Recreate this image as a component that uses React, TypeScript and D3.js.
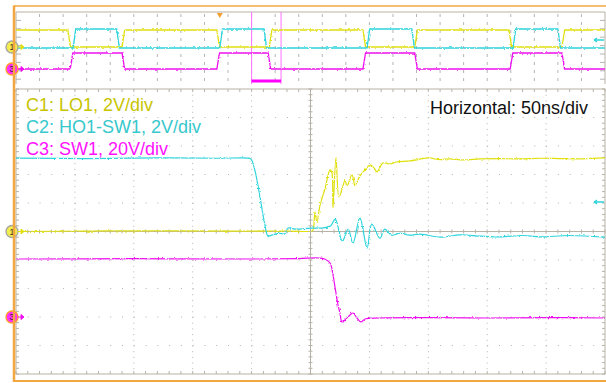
import React from 'react';
import * as d3 from 'd3';

const W = 606;
const H = 383;

// Main window: 10 x 10 divisions, 50 ns/div
const TIME_SPAN_NS = 500;
const H_DIVS = 10;
const V_DIVS = 10;

// C1: LO1, 2 V/div — [time ns, volts]
const lo1: [number, number][] = [
  [0, 0], [60, 0.03], [120, 0.05], [180, 0.02], [230, 0.03], [248, 0], [251, 0.02],
  [252.2, 0.1], [253.8, 1.37], [255.5, 0.67], [258.1, 1.86], [262.3, 3.0],
  [266.6, 4.32], [268, 4.2], [269.1, 1.65], [271.6, 5.16], [274.2, 2.42], [277.6, 3.19],
  [279.3, 3.61], [281, 3.19], [285.2, 3.97], [287.8, 3.26], [292, 3.9], [296.3, 4.32],
  [300.5, 4.67], [303.9, 4.46], [306.5, 4.18], [311.5, 4.81], [317.5, 4.74], [323.4, 4.88],
  [334.5, 4.95], [349.7, 5.16], [360, 5.05], [368.4, 5.1], [380, 5.02], [393.9, 5.09],
  [410, 5.12], [427.8, 5.09], [445, 5.14], [461.8, 5.12], [480, 5.1], [500, 5.16],
];

// C2: HO1-SW1, 2 V/div — [time ns, volts]
const ho1sw1: [number, number][] = [
  [0, 5.23], [60, 5.2], [120, 5.25], [170, 5.22], [192, 5.25], [196, 5.23], [199.5, 5.16],
  [203, 4.3], [207, 2.56], [211, 0.67], [214, -0.25], [217, -0.18], [224, -0.04], [228, -0.1],
  [231, 0.32], [237, 0.25], [250, 0.32], [260, 0.32], [267, 0.46], [271, 0.95], [277, -0.6],
  [282, 0.25], [286, -0.74], [292, 1.02], [298, -1.09], [302, 0.6], [309, -0.39], [313, 0.25],
  [319, -0.18], [326, -0.04], [334, -0.18], [343, -0.1], [360, -0.32], [377, -0.15],
  [395, -0.25], [411, -0.3], [430, -0.2], [445, -0.3], [470, -0.2], [500, -0.32],
];

// C3: SW1, 20 V/div — [time ns, volts]
const sw1: [number, number][] = [
  [0, 40.7], [100, 40.9], [200, 40.7], [240, 41.0], [257, 41.4], [262, 40.7], [266.6, 37.9],
  [269.1, 29.5], [270.8, 21], [273.4, 8.4], [275, 2.8], [276.7, -3.5], [279.3, -2.1],
  [283.5, 1.4], [286, 2.8], [289.4, -0.7], [292.8, -3.5], [296.3, -1.4], [309, -0.7],
  [350, -0.5], [400, -0.7], [450, -0.4], [500, -0.7],
];

// Overview record (µs): toggle times of each channel over the full 10 µs acquisition
const ovLo1Edges = [0.88, 1.8, 3.41, 4.3, 5.89, 6.77, 8.37, 9.27];
const ovHo1Edges = [0.97, 1.71, 3.46, 4.21, 5.96, 6.72, 8.44, 9.2];
const ovSw1Edges = [0.92, 1.8, 3.41, 4.28, 5.89, 6.77, 8.39, 9.27];
const ovStartHigh = { lo1: true, ho1: false, sw1: false };
const OV_SPAN_US = 10;
const ZOOM_START_US = 4.0;
const TRIGGER_US = 3.46;

const labels = [
  { text: 'C1: LO1, 2V/div', color: '#c8c400' },
  { text: 'C2: HO1-SW1, 2V/div', color: '#36c8cc' },
  { text: 'C3: SW1, 20V/div', color: '#ff10ff' },
];
const horizLabel = 'Horizontal: 50ns/div';

const COL = {
  frame: '#f4a640',
  grid: '#b8b2a6',
  dot: '#b4b4b4',
  yellow: '#e0e010',
  cyan: '#2ed4dc',
  magenta: '#ee10ee',
};

// Main graticule geometry
const M = { x0: 16, x1: 605, y0: 89, y1: 374 };
// Overview graticule geometry
const O = { x0: 16, x1: 605, y0: 12, y1: 84 };

const x = d3.scaleLinear().domain([0, TIME_SPAN_NS]).range([M.x0, M.x1]);
const yDiv = d3.scaleLinear().domain([-V_DIVS / 2, V_DIVS / 2]).range([M.y1, M.y0]);
const xo = d3.scaleLinear().domain([0, OV_SPAN_US]).range([O.x0, O.x1]);

const chan = (vPerDiv: number, offsetDiv: number) => (v: number) => yDiv(v / vPerDiv + offsetDiv);
const y1 = chan(2, 0);
const y2 = chan(2, -0.04);
const y3 = chan(20, -3);

const line = (yf: (v: number) => number) =>
  d3.line<[number, number]>().x(d => x(d[0])).y(d => yf(d[1])).curve(d3.curveCatmullRom.alpha(0.5));

// Overview step traces built from edge times
function stepPath(edges: number[], startHigh: boolean, yHigh: number, yLow: number, ramp = 0.045) {
  const pts: [number, number][] = [];
  let high = startHigh;
  pts.push([xo(0), high ? yHigh : yLow]);
  for (const t of edges) {
    pts.push([xo(t), high ? yHigh : yLow]);
    high = !high;
    pts.push([xo(t + ramp), high ? yHigh : yLow]);
  }
  pts.push([xo(OV_SPAN_US), high ? yHigh : yLow]);
  return d3.line()(pts) as string;
}

function Marker({ cx, cy, n, fill, ring, arrow }: { cx: number; cy: number; n: string; fill: string; ring: string; arrow: string }) {
  return (
    <g>
      <circle cx={cx} cy={cy} r={6} fill={fill} stroke={ring} strokeWidth={1.4} />
      <text x={cx} y={cy + 3.3} textAnchor="middle" fontSize={9} fontFamily="Liberation Sans, Arial, sans-serif" fill="#222">{n}</text>
      <path d={`M${cx + 6},${cy}H${cx + 9}M${cx + 9},${cy - 2.5}L${cx + 12},${cy}L${cx + 9},${cy + 2.5}Z`} stroke={arrow} fill={arrow} strokeWidth={1} />
    </g>
  );
}

export default function App() {
  const mainDivW = (M.x1 - M.x0) / H_DIVS;
  const mainDivH = (M.y1 - M.y0) / V_DIVS;
  const cx = (M.x0 + M.x1) / 2;
  const cy = (M.y0 + M.y1) / 2;

  const vLines = d3.range(1, H_DIVS).map(i => M.x0 + i * mainDivW).filter(v => Math.abs(v - cx) > 1);
  const hLines = d3.range(1, V_DIVS).map(i => M.y0 + i * mainDivH).filter(v => Math.abs(v - cy) > 1);
  const minorX = d3.range(0, H_DIVS * 5 + 1).map(i => M.x0 + (i * mainDivW) / 5);
  const minorY = d3.range(0, V_DIVS * 5 + 1).map(i => M.y0 + (i * mainDivH) / 5);

  const ovDivs = 25;
  const ovDivW = (O.x1 - O.x0) / ovDivs;
  const ovV = d3.range(1, ovDivs).map(i => O.x0 + i * ovDivW);
  const ovRows = d3.range(1, 9).map(i => O.y0 + i * 8.4);

  const zx0 = xo(ZOOM_START_US);
  const zx1 = xo(ZOOM_START_US + TIME_SPAN_NS / 1000);

  return (
    <svg width={W} height={H} style={{ position: 'absolute', left: 0, top: 0, background: '#fff' }}>
      <defs>
        <filter id="jitter" filterUnits="userSpaceOnUse" x={0} y={0} width={W} height={H}>
          <feTurbulence type="fractalNoise" baseFrequency="0.5" numOctaves={1} seed={4} result="n" />
          <feDisplacementMap in="SourceGraphic" in2="n" scale={2.6} xChannelSelector="R" yChannelSelector="G" />
        </filter>
      </defs>
      <rect width={W} height={H} fill="#fff" />

      {/* Overview graticule */}
      <g>
        <line x1={O.x0} x2={O.x1} y1={O.y0} y2={O.y0} stroke={COL.grid} strokeWidth={1} />
        {ovV.map((v, i) => (
          <line key={i} x1={v} x2={v} y1={O.y0 + 2} y2={O.y1} stroke={COL.dot} strokeWidth={1} strokeDasharray="3,5" />
        ))}
        {ovRows.map((r, i) => (
          <g key={i}>
            <line x1={O.x0} x2={O.x0 + 5} y1={r} y2={r} stroke={COL.dot} />
            <line x1={O.x1 - 5} x2={O.x1} y1={r} y2={r} stroke={COL.dot} />
          </g>
        ))}
        <line x1={O.x0} x2={O.x0} y1={O.y0} y2={O.y1} stroke={COL.grid} />
        <line x1={O.x1} x2={O.x1} y1={O.y0} y2={O.y1} stroke={COL.grid} />
      </g>

      {/* Overview zoom window */}
      <line x1={zx0} x2={zx0} y1={O.y0} y2={O.y1} stroke="#ff70ff" strokeWidth={1} />
      <line x1={zx1} x2={zx1} y1={O.y0} y2={O.y1} stroke="#ff70ff" strokeWidth={1} />
      <line x1={zx0} x2={zx1} y1={81} y2={81} stroke="#ff00ff" strokeWidth={3} />

      {/* Overview traces */}
      <g filter="url(#jitter)" fill="none" strokeWidth={1.3}>
        <path d={stepPath(ovSw1Edges, ovStartHigh.sw1, 53, 69)} stroke={COL.magenta} />
        <path d={stepPath(ovLo1Edges, ovStartHigh.lo1, 30, 47)} stroke={COL.yellow} />
        <path d={stepPath(ovHo1Edges, ovStartHigh.ho1, 29, 48)} stroke={COL.cyan} />
      </g>

      {/* Trigger position */}
      <path d={`M${xo(TRIGGER_US) - 3},13L${xo(TRIGGER_US) + 3},13L${xo(TRIGGER_US)},18Z`} fill="#f4a030" />

      {/* Main graticule */}
      <g>
        {vLines.map((v, i) => (
          <line key={'v' + i} x1={v} x2={v} y1={M.y0} y2={M.y1} stroke={COL.dot} strokeDasharray="1,4.7" />
        ))}
        {hLines.map((h, i) => (
          <line key={'h' + i} x1={M.x0} x2={M.x1} y1={h} y2={h} stroke={COL.dot} strokeDasharray="1,10.78" />
        ))}
        <rect x={M.x0} y={M.y0} width={M.x1 - M.x0} height={M.y1 - M.y0} fill="none" stroke={COL.grid} />
        <line x1={cx} x2={cx} y1={M.y0} y2={M.y1} stroke={COL.grid} />
        <line x1={M.x0} x2={M.x1} y1={cy} y2={cy} stroke={COL.grid} />
        {minorX.map((v, i) => (
          <g key={'mx' + i} stroke={COL.grid}>
            <line x1={v} x2={v} y1={cy - 2} y2={cy + 2} />
            <line x1={v} x2={v} y1={M.y0} y2={M.y0 + 3} />
            <line x1={v} x2={v} y1={M.y1 - 3} y2={M.y1} />
          </g>
        ))}
        {minorY.map((h, i) => (
          <g key={'my' + i} stroke={COL.grid}>
            <line x1={cx - 2} x2={cx + 2} y1={h} y2={h} />
            <line x1={M.x0} x2={M.x0 + 3} y1={h} y2={h} />
            <line x1={M.x1 - 3} x2={M.x1} y1={h} y2={h} />
          </g>
        ))}
      </g>

      {/* Main traces */}
      <g filter="url(#jitter)" fill="none" strokeWidth={1.2} strokeLinejoin="round">
        <path d={line(y3)(sw1) as string} stroke={COL.magenta} />
        <path d={line(y1)(lo1) as string} stroke={COL.yellow} />
        <path d={line(y2)(ho1sw1) as string} stroke={COL.cyan} />
      </g>

      {/* Channel labels */}
      <g fontFamily="Liberation Sans, Arial, sans-serif" fontSize={18}>
        {labels.map((l, i) => (
          <text key={i} x={26} y={111 + i * 22} fill={l.color}>{l.text}</text>
        ))}
        <text x={588} y={113.5} textAnchor="end" fill="#111">{horizLabel}</text>
      </g>

      {/* Channel reference markers */}
      <Marker cx={12} cy={47} n="1" fill="#f2ee50" ring="#a8a8a0" arrow={COL.yellow} />
      <Marker cx={12} cy={69} n="3" fill="#ff30ff" ring="#ffa030" arrow={COL.magenta} />
      <Marker cx={12} cy={y1(0)} n="1" fill="#f2ee50" ring="#a8a8a0" arrow={COL.yellow} />
      <Marker cx={12} cy={y3(0)} n="3" fill="#ff30ff" ring="#ffa030" arrow={COL.magenta} />

      {/* Off-screen reference arrows */}
      <path d="M594,40L604,40M594,40L597,38M594,40L597,42" stroke={COL.cyan} strokeWidth={1.3} fill="none" />
      <path d="M594,202L604,202M594,202L597,200M594,202L597,204" stroke={COL.cyan} strokeWidth={1.3} fill="none" />

      {/* Outer frame */}
      <line x1={14} x2={W} y1={6} y2={6} stroke={COL.frame} strokeWidth={1.5} />
      <line x1={14} x2={14} y1={5.5} y2={382} stroke={COL.frame} strokeWidth={2.5} />
      <line x1={13} x2={W} y1={381} y2={381} stroke={COL.frame} strokeWidth={2} />
    </svg>
  );
}
